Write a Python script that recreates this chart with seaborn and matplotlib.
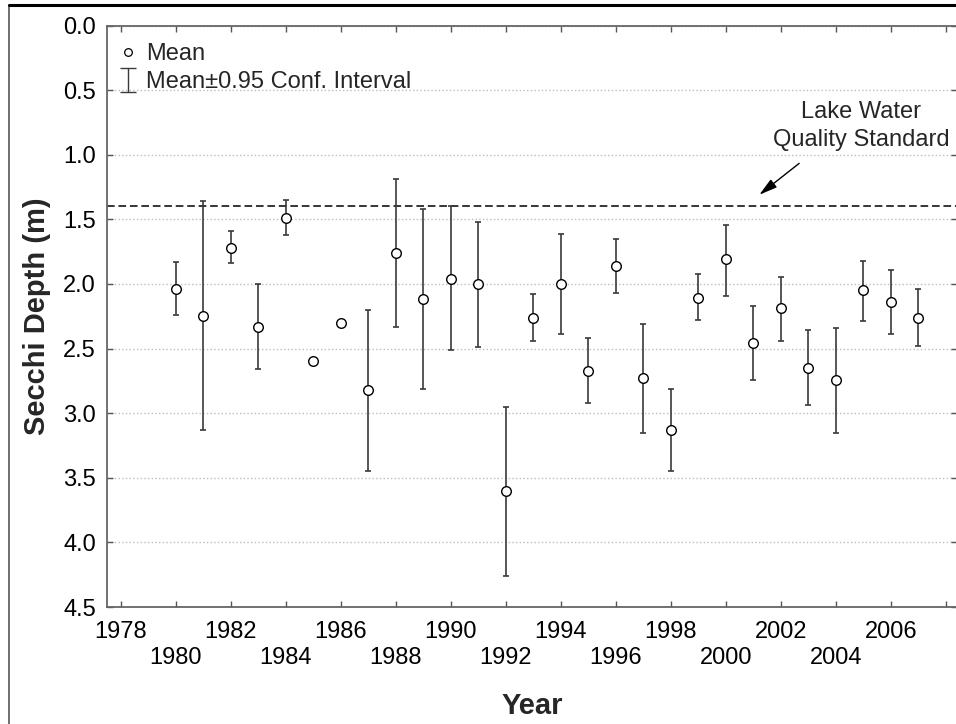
import numpy as np
import pandas as pd
import matplotlib
matplotlib.use("Agg")
import matplotlib.pyplot as plt
from matplotlib.lines import Line2D
import seaborn as sns

# ---- data ----
years = list(range(1980, 2008))
mean_depth = [2.04, 2.25, 1.72, 2.33, 1.49, 2.60, 2.30, 2.82, 1.76, 2.12,
              1.96, 2.00, 3.60, 2.26, 2.00, 2.67, 1.86, 2.73, 3.13, 2.11,
              1.81, 2.46, 2.19, 2.65, 2.74, 2.05, 2.14, 2.26]
ci_low = [1.83, 1.36, 1.59, 2.00, 1.35, np.nan, np.nan, 2.20, 1.19, 1.42,
          1.40, 1.52, 2.95, 2.08, 1.61, 2.42, 1.65, 2.31, 2.81, 1.92,
          1.54, 2.17, 1.95, 2.36, 2.34, 1.82, 1.89, 2.04]
ci_high = [2.24, 3.13, 1.84, 2.66, 1.62, np.nan, np.nan, 3.45, 2.33, 2.81,
           2.51, 2.49, 4.26, 2.44, 2.39, 2.92, 2.07, 3.15, 3.45, 2.28,
           2.09, 2.74, 2.44, 2.94, 3.15, 2.29, 2.39, 2.48]
standard_depth = 1.4
year_ticks = list(range(1978, 2009, 2))
depth_ticks = [0.0, 0.5, 1.0, 1.5, 2.0, 2.5, 3.0, 3.5, 4.0, 4.5]

df = pd.DataFrame({"Year": years, "Mean": mean_depth,
                   "Low": ci_low, "High": ci_high})

sns.set_theme(style="ticks")
plt.rcParams["font.family"] = ["Liberation Sans", "DejaVu Sans"]
plt.rcParams["font.size"] = 17

fig = plt.figure(figsize=(9.56, 7.24), dpi=100)
ax = fig.add_axes([107 / 956, 117 / 724, 850 / 956, 581.5 / 724])

# grid + standard line
ax.yaxis.grid(True, ls=":", color="#bdbdbd", lw=1.0)
ax.set_axisbelow(True)
ax.axhline(standard_depth, color="black", ls=(0, (5, 2.5)), lw=1.1, zorder=2)

# confidence intervals
ax.errorbar(df["Year"], df["Mean"],
            yerr=[df["Mean"] - df["Low"], df["High"] - df["Mean"]],
            fmt="none", ecolor="#3a3a3a", elinewidth=1.2,
            capsize=2.4, capthick=1.2, zorder=3)

# means
sns.scatterplot(data=df, x="Year", y="Mean", ax=ax, marker="o", s=48,
                facecolor="white", edgecolor="black", linewidth=1.0,
                zorder=4, legend=False)

# axes
ax.set_xlim(1977.5, 2008.41)
ax.set_ylim(4.5, 0.0)
ax.set_yticks(depth_ticks)
ax.set_yticklabels([f"{v:.1f}" for v in depth_ticks])
ax.set_xticks(year_ticks)
xlabels = []
for i, yr in enumerate(year_ticks):
    if yr == 2008:
        xlabels.append("")
    elif i % 2 == 0:
        xlabels.append(str(yr))
    else:
        xlabels.append("\n" + str(yr))
ax.set_xticklabels(xlabels)
ax.tick_params(direction="in", length=4.5, width=1, color="#555555",
               top=True, right=True, labelsize=17, labelcolor="black")
ax.tick_params(axis="x", pad=10)
ax.tick_params(axis="y", pad=8)
for lbl in ax.get_xticklabels():
    lbl.set_linespacing(1.25)
for sp in ax.spines.values():
    sp.set_color("#666666")
    sp.set_linewidth(1.3)

ax.set_xlabel("Year", fontsize=21, fontweight="bold")
ax.set_ylabel("Secchi Depth (m)", fontsize=21, fontweight="bold")
ax.xaxis.set_label_coords(0.5, -0.17)
ax.yaxis.set_label_coords(-0.082, 0.5)
ax.yaxis.label.set_va("center")
ax.xaxis.label.set_va("center")

# annotation
ax.text(2004.93, 0.778, "Lake Water\nQuality Standard", ha="center",
        va="center", fontsize=17, linespacing=1.3)
ax.annotate("", xy=(2001.22, 1.31), xytext=(2002.67, 1.067),
            arrowprops=dict(arrowstyle="-|>,head_length=1.1,head_width=0.3",
                            color="black", lw=1.0, shrinkA=0, shrinkB=0,
                            mutation_scale=10))

# legend
mean_handle = Line2D([], [], marker="o", ls="none", markersize=5.5,
                     markerfacecolor="white", markeredgecolor="black",
                     markeredgewidth=0.9)
ci_handle = ax.errorbar([np.nan], [np.nan], yerr=[np.nan], fmt="none",
                        ecolor="#3a3a3a", elinewidth=1.0, capsize=6,
                        capthick=1.0)
ax.legend([mean_handle, ci_handle], ["Mean", "Mean\u00b10.95 Conf. Interval"],
          loc="upper left", bbox_to_anchor=(-9 / 850, 1.0),
          frameon=False, fontsize=17, handlelength=1.0,
          handletextpad=0.3, borderaxespad=0.2, borderpad=0.55,
          labelspacing=0.26)

# outer frame of the figure
fig.add_artist(Line2D([9 / 956, 9 / 956], [0, 1 - 5 / 724],
                      transform=fig.transFigure, color="#555555", lw=1.2))
fig.add_artist(Line2D([9 / 956, 1], [1 - 5 / 724, 1 - 5 / 724],
                      transform=fig.transFigure, color="black", lw=2.2))

fig.savefig("out.png", dpi=100)
